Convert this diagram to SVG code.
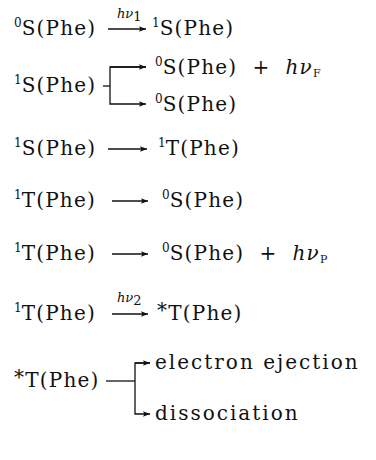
<svg xmlns="http://www.w3.org/2000/svg" width="376" height="460" viewBox="0 0 376 460">
<style>
text{font-family:"DejaVu Serif","Liberation Serif",serif;font-size:20px;fill:#111;letter-spacing:1.2px;white-space:pre}
.sup{font-size:12px;letter-spacing:0}
.it{font-style:italic}
.sm{font-size:13px;letter-spacing:0}
.sub{font-size:11px}
.w{letter-spacing:2px}
.c line,.c path{stroke:#111;stroke-width:1.3;fill:none}
</style>
<defs>
<marker id="ah" viewBox="0 0 10 10" refX="10" refY="5" markerWidth="10" markerHeight="7" markerUnits="userSpaceOnUse" orient="auto">
<path d="M0,1 L10,5 L0,9 L2,5 Z" fill="#111"/>
</marker>
</defs>
<rect width="376" height="460" fill="#fff"/>
<g id="r1">
<text x="14" y="35"><tspan class="sup" dy="-8">0</tspan><tspan dy="8">S(Phe)</tspan></text>
<text x="117" y="18"><tspan class="it sm">hν</tspan><tspan class="sm" dy="3">1</tspan></text>
<text x="152" y="35"><tspan class="sup" dy="-8">1</tspan><tspan dy="8">S(Phe)</tspan></text>
</g>
<g id="r2">
<text x="14" y="92"><tspan class="sup" dy="-8">1</tspan><tspan dy="8">S(Phe)</tspan></text>
<text x="155" y="74"><tspan class="sup" dy="-8">0</tspan><tspan dy="8">S(Phe)  +  </tspan><tspan class="it">hν</tspan><tspan class="sub" dy="3">F</tspan></text>
<text x="155" y="111"><tspan class="sup" dy="-8">0</tspan><tspan dy="8">S(Phe)</tspan></text>
</g>
<g id="r3">
<text x="14" y="155"><tspan class="sup" dy="-8">1</tspan><tspan dy="8">S(Phe)</tspan></text>
<text x="158" y="155"><tspan class="sup" dy="-8">1</tspan><tspan dy="8">T(Phe)</tspan></text>
</g>
<g id="r4">
<text x="14" y="207"><tspan class="sup" dy="-8">1</tspan><tspan dy="8">T(Phe)</tspan></text>
<text x="162" y="207"><tspan class="sup" dy="-8">0</tspan><tspan dy="8">S(Phe)</tspan></text>
</g>
<g id="r5">
<text x="14" y="260"><tspan class="sup" dy="-8">1</tspan><tspan dy="8">T(Phe)</tspan></text>
<text x="162" y="260"><tspan class="sup" dy="-8">0</tspan><tspan dy="8">S(Phe)  +  </tspan><tspan class="it">hν</tspan><tspan class="sub" dy="3">P</tspan></text>
</g>
<g id="r6">
<text x="14" y="320"><tspan class="sup" dy="-8">1</tspan><tspan dy="8">T(Phe)</tspan></text>
<text x="117" y="302"><tspan class="it sm">hν</tspan><tspan class="sm" dy="3">2</tspan></text>
<text x="157" y="320"><tspan dy="-3">*</tspan><tspan dy="3">T(Phe)</tspan></text>
</g>
<g id="r7">
<text x="14" y="387"><tspan dy="-3">*</tspan><tspan dy="3">T(Phe)</tspan></text>
<text class="w" x="155" y="369">electron ejection</text>
<text class="w" x="155" y="420">dissociation</text>
</g>
<g id="connectors" class="c">
<line x1="108" y1="29" x2="146" y2="29" marker-end="url(#ah)"/>
<line x1="103" y1="86" x2="110" y2="86"/>
<path d="M146,67 H110 V104 H146" marker-end="url(#ah)"/>
<line x1="110" y1="67" x2="146" y2="67" marker-end="url(#ah)"/>
<line x1="108" y1="149" x2="147" y2="149" marker-end="url(#ah)"/>
<line x1="112" y1="201" x2="148" y2="201" marker-end="url(#ah)"/>
<line x1="112" y1="254" x2="148" y2="254" marker-end="url(#ah)"/>
<line x1="112" y1="314" x2="148" y2="314" marker-end="url(#ah)"/>
<line x1="106" y1="381" x2="135" y2="381"/>
<path d="M150,363 H135 V414 H150" marker-end="url(#ah)"/>
<line x1="135" y1="363" x2="150" y2="363" marker-end="url(#ah)"/>
</g>
</svg>
